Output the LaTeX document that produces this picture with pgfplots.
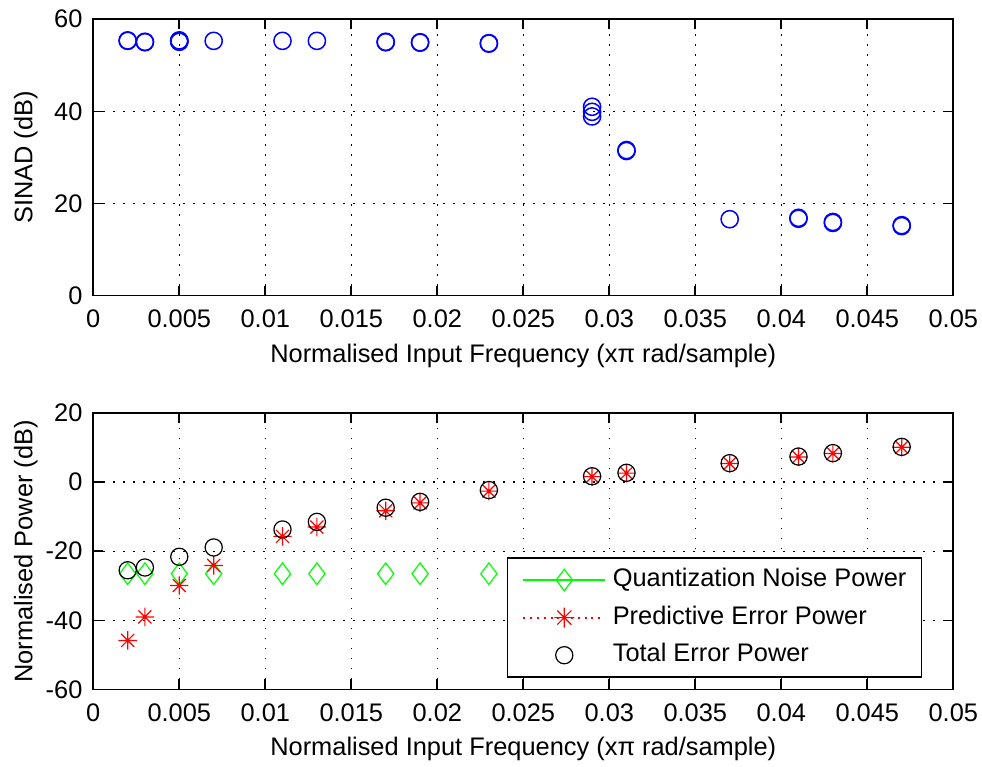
\documentclass[border=0pt]{standalone}
\usepackage{fontspec}
\setmainfont{Liberation Sans}
\usepackage{pgfplots}
\pgfplotsset{compat=1.18}

\definecolor{mblue}{RGB}{0,0,255}
\definecolor{mgreen}{RGB}{0,255,0}
\definecolor{mred}{RGB}{255,0,0}

\pgfdeclareplotmark{mstar}{%
  \pgfpathmoveto{\pgfqpoint{-\pgfplotmarksize}{0pt}}\pgfpathlineto{\pgfqpoint{\pgfplotmarksize}{0pt}}%
  \pgfpathmoveto{\pgfqpoint{0pt}{-\pgfplotmarksize}}\pgfpathlineto{\pgfqpoint{0pt}{\pgfplotmarksize}}%
  \pgfpathmoveto{\pgfqpoint{-0.707\pgfplotmarksize}{-0.707\pgfplotmarksize}}\pgfpathlineto{\pgfqpoint{0.707\pgfplotmarksize}{0.707\pgfplotmarksize}}%
  \pgfpathmoveto{\pgfqpoint{-0.707\pgfplotmarksize}{0.707\pgfplotmarksize}}\pgfpathlineto{\pgfqpoint{0.707\pgfplotmarksize}{-0.707\pgfplotmarksize}}%
  \pgfusepathqstroke}

\pgfplotsset{
  mystyle/.style={
    scale only axis, width=430pt, height=138.25pt,
    xmin=0, xmax=0.05, scaled x ticks=false, scaled y ticks=false,
    xtick={0,0.005,0.01,0.015,0.02,0.025,0.03,0.035,0.04,0.045,0.05},
    xticklabels={0,0.005,0.01,0.015,0.02,0.025,0.03,0.035,0.04,0.045,0.05},
    tick align=inside, major tick length=5pt,
    xtick pos=both, ytick pos=both,
    grid=major,
    major grid style={black, line width=0.7pt, dash pattern=on 0.7pt off 4.3pt},
    axis line style={line width=0.8pt},
    tick style={black, line width=0.8pt},
    xticklabel style={yshift=-2.5pt},
    yticklabel style={xshift=-1pt},
    xlabel style={at={(axis description cs:0.5,-0.2398)}, anchor=base},
    ylabel style={at={(axis description cs:-0.0709,0.5)}, anchor=base},
    xlabel={Normalised Input Frequency (xπ rad/sample)},
  }
}

\begin{document}
\fontsize{12.7}{15}\selectfont
\begin{tikzpicture}
\path[use as bounding box] (-46.65pt,-38.75pt) rectangle (444.35pt,344.75pt);

\begin{axis}[mystyle, at={(0pt,196.9pt)}, anchor=south west,
  ymin=0, ymax=60, ytick={0,20,40,60}, yticklabels={0,20,40,60},
  ylabel={SINAD (dB)}]
\addplot[only marks, mark=o, mblue, mark size=4.3pt, line width=0.75pt] coordinates {
(0.002,55.4)(0.002,55.3)(0.003,55.1)(0.003,55.0)
(0.005,55.4)(0.005,55.3)(0.005,55.2)(0.005,55.1)
(0.007,55.3)(0.011,55.3)(0.013,55.3)
(0.017,55.1)(0.017,55.0)(0.019,55.0)(0.019,54.9)
(0.023,54.8)(0.023,54.7)
(0.029,41.0)(0.029,39.9)(0.029,38.9)
(0.031,31.6)(0.031,31.4)
(0.037,16.6)(0.041,16.9)(0.041,16.7)
(0.043,16.0)(0.043,15.8)(0.047,15.3)(0.047,15.1)};
\end{axis}

\begin{axis}[mystyle, at={(0pt,0pt)}, anchor=south west,
  ymin=-60, ymax=20, ytick={-60,-40,-20,0,20}, yticklabels={-60,-40,-20,0,20},
  ylabel={Normalised Power (dB)},
  legend cell align=left,
  legend style={at={(axis description cs:0.4807,0.4781)}, anchor=north west,
    draw=black, line width=0.8pt, fill=white,
    inner xsep=7.5pt, inner ysep=5.0pt, row sep=6.9pt, column sep=3.35pt,
    nodes={inner sep=0pt, text height=9.3pt, text depth=2.6pt}}]
\addplot[only marks, mark=diamond, mgreen, mark size=5.4pt, line width=0.6pt,
  legend image code/.code={
    \draw[mgreen, line width=0.6pt] (0pt,0pt) -- (40.8pt,0pt);
    \draw[mgreen, line width=0.6pt, mark=diamond, mark size=5.4pt] plot coordinates {(20.4pt,0pt)};}]
coordinates {
(0.002,-26.5)(0.003,-26.5)(0.005,-26.5)(0.007,-26.5)(0.011,-26.5)(0.013,-26.5)
(0.017,-26.5)(0.019,-26.5)(0.023,-26.5)(0.029,-26.5)(0.031,-26.5)(0.037,-26.5)
(0.041,-26.5)(0.043,-26.5)(0.047,-26.5)};
\addlegendentry{Quantization Noise Power}
\addplot[only marks, mark=mstar, mred, mark size=4.6pt, line width=0.6pt,
  legend image code/.code={
    \draw[mred, line width=1pt, dash pattern=on 1pt off 2.4pt] (0pt,0pt) -- (40.8pt,0pt);
    \draw[mred, solid, line width=0.6pt, mark=mstar, mark size=5pt] plot coordinates {(20.4pt,0pt)};}]
coordinates {
(0.002,-45.8)(0.003,-39.0)(0.005,-29.9)(0.007,-24.1)(0.011,-15.7)(0.013,-13.0)
(0.017,-8.3)(0.019,-6.0)(0.023,-2.6)(0.029,1.6)(0.031,2.6)(0.037,5.4)
(0.041,7.3)(0.043,8.3)(0.047,10.1)};
\addlegendentry{Predictive Error Power}
\addplot[only marks, mark=o, black, mark size=4.3pt, line width=0.6pt,
  legend image code/.code={
    \path[draw=none] (0pt,0pt) -- (40.8pt,0pt);
    \draw[black, line width=0.6pt, mark=o, mark size=4.3pt] plot coordinates {(20.4pt,0pt)};}]
coordinates {
(0.002,-25.5)(0.003,-24.7)(0.005,-21.6)(0.007,-18.9)(0.011,-13.7)(0.013,-11.5)
(0.017,-7.4)(0.019,-5.7)(0.023,-2.3)(0.029,1.7)(0.031,2.7)(0.037,5.5)
(0.041,7.4)(0.043,8.4)(0.047,10.2)};
\addlegendentry{Total Error Power}
\end{axis}
\end{tikzpicture}
\end{document}
